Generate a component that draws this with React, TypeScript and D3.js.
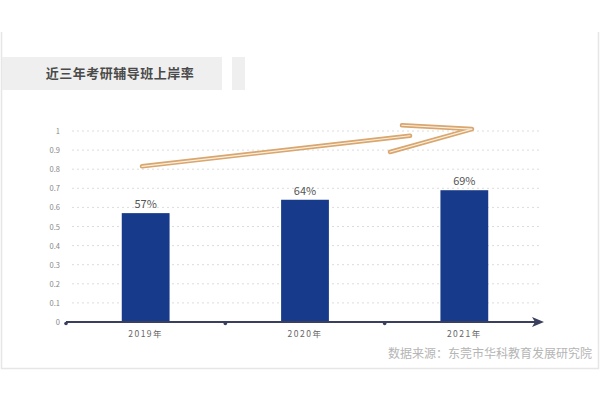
import React from 'react';
import * as d3 from 'd3';

const years = ['2019年', '2020年', '2021年'];
const rates = [0.57, 0.64, 0.69];
const rateLabels = ['57%', '64%', '69%'];
const title = '近三年考研辅导班上岸率';
const source = '数据来源：东莞市华科教育发展研究院';

const W = 600;
const H = 400;
const margin = { left: 66, right: 56, top: 131, bottom: 78 };

export default function App() {
  const x = d3.scaleBand<string>()
    .domain(years)
    .range([margin.left, W - margin.right])
    .paddingInner(0.7)
    .paddingOuter(0.35);
  const y = d3.scaleLinear().domain([0, 1]).range([H - margin.bottom, margin.top]);
  const ticks = y.ticks(10);
  const step = x.step();
  const x0 = margin.left;
  const x1 = W - margin.right;
  const baseY = y(0);

  // hand-drawn style trend arrow, positioned relative to the plot
  const arrowShaft = `M${x0 + 76},${y(0.815)} L${x0 + 344},${y(0.975)}`;
  const arrowHead = `M${x0 + 324},${y(0.89)} L${x0 + 406},${y(1.01)} L${x0 + 336},${y(1.03)}`;

  return (
    <svg width={W} height={H} style={{ position: 'fixed', left: 0, top: 0, background: '#fff' }}
      fontFamily="'Noto Sans CJK SC', 'Noto Sans', sans-serif">
      {/* outer frame */}
      <path d={`M1.5,32 L1.5,368.5 L598.5,368.5 L598.5,32`} fill="none" stroke="#e6e6e6" strokeWidth={1.5} />

      {/* title block */}
      <rect x={2} y={57} width={220} height={33} fill="#efefef" />
      <rect x={232} y={57} width={13} height={33} fill="#efefef" />
      <text x={120} y={78} textAnchor="middle" fontSize={13} fontWeight="bold" fill="#4a4a4a" letterSpacing={0.5}>{title}</text>

      {/* grid */}
      {ticks.filter(t => t > 0).map(t => (
        <line key={t} x1={x0 + 6} x2={x1 - 4} y1={y(t)} y2={y(t)}
          stroke="#dcdcdc" strokeWidth={1} strokeDasharray="2,3" />
      ))}
      {ticks.map(t => (
        <text key={'l' + t} x={x0 - 6} y={y(t) + 3} textAnchor="end" fontSize={7.5} fill="#888">
          {String(Math.round(t * 10) / 10)}
        </text>
      ))}

      {/* bars */}
      {years.map((yr, i) => (
        <g key={yr}>
          <rect x={x(yr)} y={y(rates[i])} width={x.bandwidth()} height={baseY - y(rates[i])} fill="#173a8a" />
          <text x={(x(yr) ?? 0) + x.bandwidth() / 2} y={y(rates[i]) - 5} textAnchor="middle" fontSize={11} fill="#555">
            {rateLabels[i]}
          </text>
          <text x={(x(yr) ?? 0) + x.bandwidth() / 2} y={baseY + 15} textAnchor="middle" fontSize={8.5} fill="#666" letterSpacing={1.5}>
            {yr}
          </text>
        </g>
      ))}

      {/* x axis with arrow */}
      <line x1={x0} x2={x1 - 8} y1={baseY} y2={baseY} stroke="#3b3f5e" strokeWidth={2} />
      <path d={`M${x1 - 12},${baseY - 5} L${x1},${baseY} L${x1 - 12},${baseY + 5} L${x1 - 9},${baseY} Z`} fill="#3b3f5e" />
      {d3.range(0, years.length).map(i => {
        const cx = i === 0 ? x0 : (x(years[i - 1]) ?? 0) + x.bandwidth() / 2 + step / 2;
        return <circle key={'d' + i} cx={cx} cy={baseY + 1.5} r={1.8} fill="#3b3f5e" />;
      })}

      {/* trend arrow */}
      <g fill="none" strokeLinecap="round" strokeLinejoin="round">
        <path d={arrowShaft} stroke="#d8a66e" strokeWidth={4.5} />
        <path d={arrowHead} stroke="#d8a66e" strokeWidth={4.5} />
        <path d={arrowShaft} stroke="#fbeedd" strokeWidth={1.2} />
        <path d={arrowHead} stroke="#fbeedd" strokeWidth={1.2} />
      </g>

      {/* source */}
      <text x={592} y={358} textAnchor="end" fontSize={12} fill="#b5b5b5">{source}</text>
    </svg>
  );
}
